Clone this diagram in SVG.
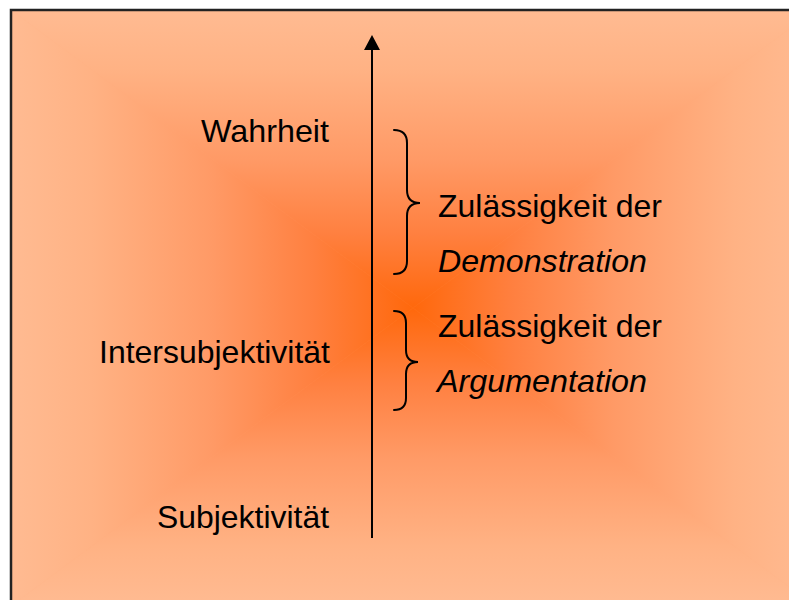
<svg xmlns="http://www.w3.org/2000/svg" width="789" height="600" viewBox="0 0 789 600">
  <defs>
    <style>
      .lbl { font-family: "Liberation Sans", Arial, sans-serif; font-size: 30.5px; fill: #000; }
      .it { font-style: italic; }
      .brace { fill: none; stroke: #000; stroke-width: 2; stroke-linecap: round; }
      .axis { stroke: #000; stroke-width: 2; }
    </style>
    <linearGradient id="gT" gradientUnits="userSpaceOnUse" x1="0" y1="308" x2="0" y2="10">
      <stop offset="0" stop-color="#FF680C"/>
      <stop offset="0.25" stop-color="#FF8040"/>
      <stop offset="0.5" stop-color="#FF9A66"/>
      <stop offset="0.8" stop-color="#FFB284"/>
      <stop offset="1" stop-color="#FFBB92"/>
    </linearGradient>
    <linearGradient id="gB" href="#gT" x1="0" y1="308" x2="0" y2="606"/>
    <linearGradient id="gL" href="#gT" x1="413" y1="0" x2="11" y2="0"/>
    <linearGradient id="gR" href="#gT" x1="413" y1="0" x2="815" y2="0"/>
  </defs>

  <rect x="0" y="0" width="789" height="600" fill="#fff"/>
  <g id="background">
    <rect x="11" y="10" width="804" height="596" fill="#FFA878"/>
    <polygon points="11,10 815,10 413,308" fill="url(#gT)" stroke="url(#gT)" stroke-width="0.6"/>
    <polygon points="11,606 815,606 413,308" fill="url(#gB)" stroke="url(#gB)" stroke-width="0.6"/>
    <polygon points="11,10 11,606 413,308" fill="url(#gL)" stroke="url(#gL)" stroke-width="0.6"/>
    <polygon points="815,10 815,606 413,308" fill="url(#gR)" stroke="url(#gR)" stroke-width="0.6"/>
    <rect x="11" y="10" width="820" height="620" fill="none" stroke="#222" stroke-width="2.5"/>
  </g>

  <g id="connectors">
    <line class="axis" x1="372" y1="538" x2="372" y2="48"/>
    <polygon points="372,35 364,50 380,50" fill="#000"/>
    <path class="brace" d="M394,130 Q407,130 407,143 L407,190 Q407,203 420,203 Q407,203 407,216 L407,261 Q407,274 394,274"/>
    <path class="brace" d="M394,311 Q406,311 406,323 L406,350 Q406,362 418,362 Q406,362 406,374 L406,398 Q406,410 394,410"/>
  </g>

  <g id="wahrheit">
    <text class="lbl" x="201" y="142" textLength="128" lengthAdjust="spacingAndGlyphs">Wahrheit</text>
  </g>
  <g id="intersubjektivitaet">
    <text class="lbl" x="99" y="363" textLength="231" lengthAdjust="spacingAndGlyphs">Intersubjektivität</text>
  </g>
  <g id="subjektivitaet">
    <text class="lbl" x="157" y="528" textLength="172" lengthAdjust="spacingAndGlyphs">Subjektivität</text>
  </g>
  <g id="demonstration">
    <text class="lbl" x="438" y="217" textLength="224" lengthAdjust="spacingAndGlyphs">Zulässigkeit der</text>
    <text class="lbl it" x="438" y="272" textLength="209" lengthAdjust="spacingAndGlyphs">Demonstration</text>
  </g>
  <g id="argumentation">
    <text class="lbl" x="438" y="337" textLength="224" lengthAdjust="spacingAndGlyphs">Zulässigkeit der</text>
    <text class="lbl it" x="437" y="392" textLength="210" lengthAdjust="spacingAndGlyphs">Argumentation</text>
  </g>
</svg>
